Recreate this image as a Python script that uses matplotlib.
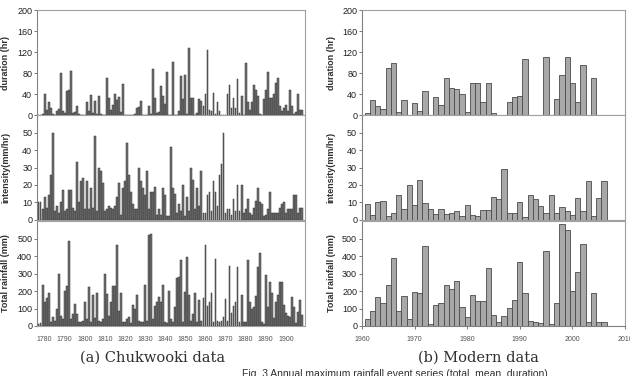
import numpy as np
import matplotlib.pyplot as plt

# Chukwooki records, one value per year starting 1777
chuk_start = 1777
chuk_duration = [1, 1, 2, 40, 10, 25, 14, 2, 1, 7, 12, 80, 7, 3, 45, 47, 84, 3, 5, 18,
                 2, 1, 1, 0, 24, 8, 38, 4, 26, 2, 36, 2, 1, 1, 70, 32, 10, 20, 41, 28,
                 35, 5, 60, 1, 1, 0, 1, 1, 2, 13, 16, 27, 1, 1, 1, 17, 2, 88, 32, 3,
                 6, 56, 36, 22, 82, 1, 1, 102, 1, 1, 7, 74, 30, 76, 2, 127, 32, 32, 1, 3,
                 30, 27, 18, 40, 124, 9, 8, 42, 2, 24, 8, 1, 1, 1, 40, 58, 13, 32, 13, 69,
                 3, 37, 1, 100, 24, 10, 25, 58, 48, 36, 2, 1, 31, 47, 82, 32, 32, 40, 62, 70,
                 17, 8, 13, 20, 8, 48, 18, 2, 5, 40, 10, 10]
chuk_intensity = [10, 10, 6, 13, 7, 14, 26, 50, 5, 8, 4, 10, 17, 5, 6, 17, 17, 7, 5, 33,
                  10, 22, 24, 6, 22, 6, 18, 7, 48, 5, 30, 28, 21, 5, 6, 8, 7, 6, 8, 13,
                  21, 3, 18, 22, 44, 26, 16, 9, 6, 6, 30, 22, 18, 14, 28, 6, 16, 16, 19, 3,
                  6, 3, 18, 14, 2, 2, 42, 18, 15, 4, 9, 5, 20, 2, 13, 5, 30, 23, 6, 18,
                  8, 28, 4, 4, 14, 16, 5, 22, 16, 8, 26, 32, 50, 4, 6, 6, 3, 12, 5, 20,
                  5, 20, 4, 6, 12, 4, 3, 7, 11, 18, 10, 9, 2, 3, 6, 16, 4, 4, 4, 4,
                  7, 9, 10, 4, 6, 6, 6, 14, 14, 4, 7, 7]
chuk_total = [10, 15, 235, 135, 160, 188, 25, 50, 30, 100, 298, 60, 40, 200, 230, 488, 40, 70, 125, 68,
              20, 22, 30, 140, 40, 225, 20, 175, 45, 188, 30, 25, 42, 300, 182, 60, 140, 228, 230, 465,
              85, 188, 20, 25, 40, 52, 15, 120, 95, 175, 30, 22, 20, 232, 30, 518, 525, 40, 115, 135,
              165, 135, 232, 20, 15, 198, 40, 20, 110, 275, 280, 380, 20, 195, 395, 175, 30, 70, 190, 20,
              150, 30, 160, 462, 115, 135, 190, 20, 385, 30, 25, 30, 50, 152, 30, 345, 75, 115, 140, 335,
              20, 180, 20, 20, 378, 140, 95, 110, 170, 335, 420, 20, 10, 292, 110, 250, 190, 45, 135, 175,
              250, 250, 120, 75, 60, 50, 168, 110, 15, 80, 150, 65]

# modern records, 1961-2006
mod_start = 1961
mod_duration = [3, 28, 17, 12, 89, 100, 5, 28, 1, 23, 8, 46, 1, 34, 20, 71, 51, 49, 40, 5,
                62, 61, 25, 61, 4, 1, 1, 25, 35, 36, 106, 1, 1, 1, 110, 0, 31, 77, 110, 62,
                24, 95, 1, 71, 1, 0.5]
mod_intensity = [9, 3, 10, 11, 2.5, 4, 14, 6, 20, 8.5, 23, 9.5, 6, 3.5, 6.5, 3.5, 4, 5, 2.5, 8.5,
                 3, 2, 5.5, 5.5, 13, 12, 29, 4, 4, 10, 1.5, 14, 12, 8, 4, 14, 4, 7.5, 5, 3,
                 12.5, 5, 22, 2.5, 12.5, 22]
mod_total = [38, 87, 168, 133, 237, 387, 85, 170, 40, 192, 187, 455, 12, 120, 130, 233, 213, 257, 108, 52,
             177, 143, 143, 333, 65, 25, 57, 103, 147, 367, 190, 28, 25, 15, 428, 12, 130, 585, 550, 198,
             308, 470, 22, 187, 25, 20]

ylabels = ['duration (hr)', 'intensity(mm/hr)', 'Total rainfall (mm)']
ylims = [200, 60, 600]
yticks = [np.arange(0, 201, 40), np.arange(0, 51, 10), np.arange(0, 501, 100)]

fig = plt.figure(figsize=(6.3, 3.76), dpi=100)
plt.rcParams['font.family'] = ['Liberation Sans', 'DejaVu Sans']

rows_b = [0.694, 0.415, 0.133]
row_h = 0.279
frame = '#a0a0a0'


def style(ax, i):
    for s in ax.spines.values():
        s.set_color(frame)
        s.set_linewidth(0.8)
    ax.spines['left'].set_color('#808080')
    ax.set_ylim(0, ylims[i])
    ax.set_yticks(yticks[i])
    ax.tick_params(axis='y', labelsize=6.5, length=2, width=0.6, color='#606060', pad=1.5,
                   labelcolor='#202020')
    ax.set_ylabel(ylabels[i], fontsize=6.5, fontweight='bold', color='#303030', labelpad=1)


chuk_data = [chuk_duration, chuk_intensity, chuk_total]
mod_data = [mod_duration, mod_intensity, mod_total]

for i in range(3):
    # left: Chukwooki
    ax = fig.add_axes([0.059, rows_b[i], 0.425, row_h])
    yrs = np.arange(chuk_start, chuk_start + len(chuk_data[i]))
    ax.bar(yrs, chuk_data[i], width=0.9, color='#707070', edgecolor='#333333', linewidth=0.35)
    ax.set_xlim(1776.3, 1909.5)
    style(ax, i)
    ax.yaxis.set_label_coords(-0.1, 0.5)
    if i == 2:
        ax.set_xticks(np.arange(1780, 1901, 10))
        ax.tick_params(axis='x', labelsize=5, length=0, pad=7, labelcolor='#505050')
    else:
        ax.set_xticks([])

    # right: modern
    ax = fig.add_axes([0.5746, rows_b[i], 0.4175, row_h])
    yrs = np.arange(mod_start, mod_start + len(mod_data[i]))
    ax.bar(yrs, mod_data[i], width=1.0, color='#a8a8a8', edgecolor='#4a4a4a', linewidth=0.6)
    ax.set_xlim(1960, 2010)
    style(ax, i)
    ax.yaxis.set_label_coords(-0.1, 0.5)
    if i == 2:
        ax.set_xticks(np.arange(1960, 2011, 10))
        ax.tick_params(axis='x', labelsize=5, length=2, width=0.6, color='#606060', pad=5,
                       labelcolor='#505050')
        ax.spines['bottom'].set_color('#808080')
    else:
        ax.set_xticks([])

fig.text(0.242, 0.048, '(a) Chukwooki data', family='DejaVu Serif', fontsize=10.5,
         ha='center', va='center', color='#303030')
fig.text(0.760, 0.048, '(b) Modern data', family='DejaVu Serif', fontsize=10.5,
         ha='center', va='center', color='#303030')
fig.text(0.627, 0.004, 'Fig. 3 Annual maximum rainfall event series (total, mean, duration)',
         fontsize=7.5, ha='center', va='center', color='#303030')

fig.savefig('out.png', dpi=100)
